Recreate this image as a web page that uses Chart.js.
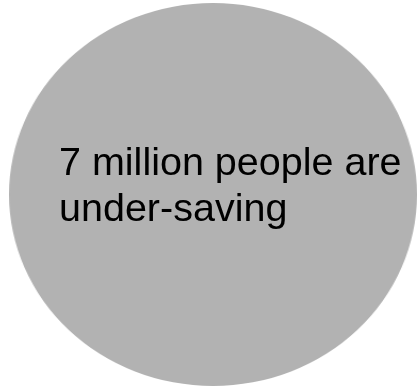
<!DOCTYPE html>
<html>
<head>
<meta charset="utf-8">
<script src="https://cdn.jsdelivr.net/npm/chart.js@4/dist/chart.umd.min.js"></script>
<style>
  html, body { margin: 0; padding: 0; background: #ffffff; }
  #wrap { position: relative; width: 418px; height: 387px; overflow: hidden; }
  #stretch { position: absolute; left: 9px; top: 3px; width: 383px; height: 383px;
             transform-origin: 0 0; transform: scaleX(1.0653); }
  #label { position: absolute; left: 59px; top: 0; font-family: "Liberation Sans", Arial, sans-serif;
           font-size: 39.5px; line-height: 46px; color: #000; white-space: nowrap; }
</style>
</head>
<body>
<div id="wrap">
  <div id="stretch"><canvas id="c" width="383" height="383"></canvas></div>
  <div id="label"></div>
</div>
<script>
const categories = ["7 million people are under-saving"];
const values = [7];
const labelLines = ["7 million people are", "under-saving"];

document.getElementById('label').innerHTML = labelLines.join('<br>');

new Chart(document.getElementById('c'), {
  type: 'pie',
  data: {
    labels: categories,
    datasets: [{ data: values, backgroundColor: ['#b2b2b2'], borderWidth: 0 }]
  },
  options: {
    responsive: false,
    animation: false,
    layout: { padding: 0 },
    plugins: { legend: { display: false }, tooltip: { enabled: false } }
  }
});

// place label: baseline of first line ~ y=175
const lab = document.getElementById('label');
lab.style.top = (175 - 46/2 - 39.5*0.35) + 'px';
</script>
</body>
</html>
